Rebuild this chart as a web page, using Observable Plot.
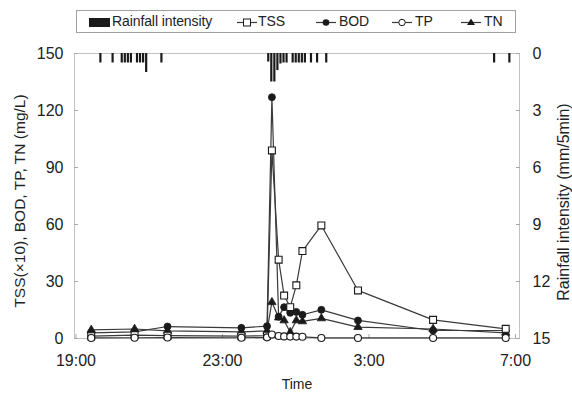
<!DOCTYPE html>
<html><head><meta charset="utf-8">
<script src="https://cdn.jsdelivr.net/npm/d3@7"></script>
<script src="https://cdn.jsdelivr.net/npm/@observablehq/plot@0.6"></script>
<style>
body{margin:0;background:#fff;font-family:"Liberation Sans",Arial,sans-serif;color:#222;}
#legend{position:relative;width:572px;height:40px;}
#legend .box{position:absolute;left:76px;top:10px;width:440px;height:23px;border:1px solid #a0a0a0;box-sizing:border-box;}
#legend .lab{position:absolute;top:13px;font-size:14px;line-height:17px;white-space:nowrap;letter-spacing:-0.1px;}
#legend svg{position:absolute;top:12px;}
</style></head><body>
<div id="legend"><div class="box"></div></div>
<div id="chart"></div>
<script>
// ---- data ----
const sampleTimes = ["19:25","20:36","21:30","23:31","0:13","0:21","0:32","0:41","0:51","1:01","1:11","1:42","2:42","4:45","6:44"];
const tssX10 = [1.2, 1.8, 1.5, 1.2, 1.5, 99, 41.5, 22.6, 16.5, 28, 46, 59.5, 25.3, 9.8, 5.1];
const bod    = [3.0, 3.5, 6.3, 5.6, 6.5, 127, 11.5, 16.5, 13.5, 14, 12.5, 15.1, 9.5, 4.2, 4.2];
const tp     = [0.3, 0.4, 0.5, 0.4, 0.6, 2.1, 1.3, 1.1, 1.0, 1.0, 0.9, 0.3, 0.3, 0.3, 0.3];
const tn     = [4.5, 5.0, 4.0, 3.5, 4.0, 19.1, 11, 9.5, 3.3, 9.5, 9.0, 10.6, 6.0, 5.0, 3.0];

const rainTimes  = ["19:40","20:00","20:15","20:20","20:25","20:30","20:40","20:45","20:50","20:55","21:20",
                    "0:15","0:20","0:25","0:30","0:35","0:40","0:45","0:55","1:00","1:05","1:10","1:15","1:25","1:35","1:50",
                    "6:25","6:50"];
const rainValues = [0.5,0.5,0.5,0.5,0.5,0.5,0.5,0.5,0.5,1.0,0.5,
                    0.45,1.5,1.5,0.9,0.55,0.5,0.5,0.5,0.5,0.5,0.5,0.5,0.5,0.5,0.5,
                    0.5,0.5];

const xTickLabels = ["19:00","23:00","3:00","7:00"];
const leftTicks  = [0,30,60,90,120,150];
const rightTicks = [0,3,6,9,12,15];
const legendLabels = ["Rainfall intensity","TSS","BOD","TP","TN"];
const yTitle = "TSS(\u00d710), BOD, TP, TN (mg/L)";
const y2Title = "Rainfall intensity (mm/5min)";
const xTitle = "Time";

// ---- helpers ----
function toHours(s){const [h,m]=s.split(":").map(Number);return (h<12?h+24:h)+m/60;}
const rainToY = r => 150 - 10*r;   // right axis (0 top .. 15 bottom) onto left scale

const rain = rainTimes.map((t,i)=>({h:toHours(t), r:rainValues[i]}));
const mk = (name, vals) => sampleTimes.map((t,i)=>({s:name, h:toHours(t), v:vals[i]}));
const sTSS = mk("TSS", tssX10), sBOD = mk("BOD", bod), sTP = mk("TP", tp), sTN = mk("TN", tn);
const all = [...sTSS, ...sBOD, ...sTP, ...sTN];

const ink = "#1a1a1a", lineCol = "#3a3a3a", tickCol = "#a8a8a8";

const chart = Plot.plot({
  width: 572, height: 354,
  marginLeft: 74, marginRight: 53, marginTop: 13, marginBottom: 56,
  x: {domain: [18.96, 31.11], axis: null},
  y: {domain: [0, 150], axis: null},
  style: {fontFamily: "'Liberation Sans', Arial, sans-serif", fontSize: "16px", color: "#222", background: "#fff"},
  marks: [
    Plot.frame({stroke: "#c2c2c2"}),
    Plot.axisY({anchor: "left", ticks: leftTicks, tickSize: -4, tickPadding: 15, stroke: tickCol, fill: "#222", label: null}),
    Plot.axisY({anchor: "right", ticks: rightTicks.map(rainToY), tickFormat: d => String((150 - d) / 10),
                tickSize: -4, tickPadding: 17, stroke: tickCol, fill: "#222", label: null}),
    Plot.axisX({ticks: xTickLabels.map(toHours), tickFormat: h => `${h % 24}:00`, tickSize: -4, tickPadding: 20,
                stroke: tickCol, fill: "#222", label: null}),
    Plot.ruleX(rain, {x: "h", y1: () => rainToY(0), y2: d => rainToY(d.r), stroke: ink, strokeWidth: 2.2}),
    Plot.line(all, {x: "h", y: "v", z: "s", stroke: lineCol, strokeWidth: 1.2}),
    Plot.dot(sTN,  {x: "h", y: "v", symbol: "triangle", r: 3.1, fill: ink, stroke: ink, strokeWidth: 0.8}),
    Plot.dot(sBOD, {x: "h", y: "v", symbol: "circle", r: 3.5, fill: ink, stroke: ink, strokeWidth: 0.8}),
    Plot.dot(sTSS, {x: "h", y: "v", symbol: "square", r: 3.9, fill: "#fff", stroke: ink, strokeWidth: 1.1}),
    Plot.dot(sTP,  {x: "h", y: "v", symbol: "circle", r: 3.5, fill: "#fff", stroke: ink, strokeWidth: 1.1}),
    Plot.text([yTitle],  {frameAnchor: "left",  textAnchor: "middle", rotate: -90, dx: -54, dy: 5, fontSize: 15.5, fill: "#222"}),
    Plot.text([y2Title], {frameAnchor: "right", textAnchor: "middle", rotate: -90, dx: 44,  dy: 6, fontSize: 16, fill: "#222"}),
    Plot.text([xTitle],  {frameAnchor: "bottom", textAnchor: "middle", dy: 50, fontSize: 14, fill: "#222"})
  ]
});
document.getElementById("chart").appendChild(chart);

// ---- legend ----
const leg = d3.select("#legend");
const items = [
  {sym: "rain", sx: 89,  tx: 112},
  {sym: "square", sx: 237, tx: 258},
  {sym: "bod", sx: 316, tx: 339},
  {sym: "tp", sx: 392, tx: 415},
  {sym: "tn", sx: 461, tx: 484}
];
items.forEach((it, i) => {
  const w = it.sym === "rain" ? 22 : 20;
  const s = leg.append("svg").attr("width", w).attr("height", 20).style("left", it.sx + "px");
  if (it.sym === "rain") {
    s.append("rect").attr("x", 0).attr("y", 6).attr("width", 21).attr("height", 9).attr("fill", ink);
  } else {
    s.append("line").attr("x1", 0).attr("x2", w).attr("y1", 10.5).attr("y2", 10.5).attr("stroke", lineCol).attr("stroke-width", 1.2);
    const c = w / 2;
    if (it.sym === "square") s.append("rect").attr("x", c - 3.5).attr("y", 7).attr("width", 7).attr("height", 7).attr("fill", "#fff").attr("stroke", ink);
    if (it.sym === "bod") s.append("circle").attr("cx", c).attr("cy", 10.5).attr("r", 3.3).attr("fill", ink);
    if (it.sym === "tp") s.append("circle").attr("cx", c).attr("cy", 10.5).attr("r", 3.2).attr("fill", "#fff").attr("stroke", ink);
    if (it.sym === "tn") s.append("path").attr("d", `M${c},6.5L${c+4},13L${c-4},13Z`).attr("fill", ink);
  }
  leg.append("div").attr("class", "lab").style("left", it.tx + "px").text(legendLabels[i]);
});
</script>
</body></html>
